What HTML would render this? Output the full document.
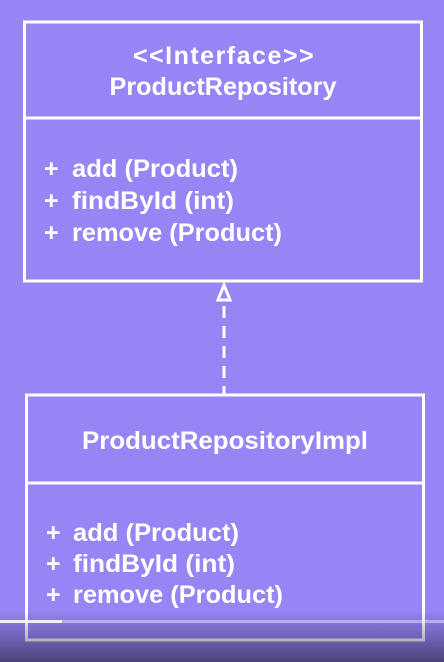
<!DOCTYPE html>
<html><head><style>
html,body{margin:0;padding:0;width:444px;height:662px;overflow:hidden;background:#9785f5;}
svg{display:block}
text{font-family:"Liberation Sans",sans-serif;font-weight:bold;fill:#fff;font-size:25px}
</style></head><body>
<svg width="444" height="662" viewBox="0 0 444 662">
<defs><linearGradient id="g" x1="0" y1="0" x2="0" y2="1">
<stop offset="0" stop-color="#000" stop-opacity="0"/><stop offset="1" stop-color="#000" stop-opacity="0.5"/></linearGradient></defs>
<rect x="0" y="0" width="444" height="662" fill="#9785f5"/>
<rect x="24.5" y="22" width="397" height="259" fill="none" stroke="#fff" stroke-width="3"/>
<line x1="24" y1="118" x2="421" y2="118" stroke="#fff" stroke-width="3"/>
<text x="224" y="64" text-anchor="middle" letter-spacing="1.5">&lt;&lt;Interface&gt;&gt;</text>
<text x="223" y="95" text-anchor="middle" textLength="227" lengthAdjust="spacingAndGlyphs">ProductRepository</text>
<text x="44" y="177">+</text><text x="72" y="177" textLength="166" lengthAdjust="spacingAndGlyphs">add (Product)</text>
<text x="44" y="209">+</text><text x="72" y="209" textLength="162" lengthAdjust="spacingAndGlyphs">findById (int)</text>
<text x="44" y="241">+</text><text x="72" y="241" textLength="210" lengthAdjust="spacingAndGlyphs">remove (Product)</text>
<polygon points="224,285 218,300 230,300" fill="none" stroke="#fff" stroke-width="3"/>
<line x1="224" y1="306" x2="224" y2="395" stroke="#fff" stroke-width="3" stroke-dasharray="12,8"/>
<rect x="26.5" y="395" width="397" height="245" fill="none" stroke="#fff" stroke-width="3"/>
<line x1="26" y1="483" x2="423" y2="483" stroke="#fff" stroke-width="3"/>
<text x="225" y="449" text-anchor="middle" textLength="286" lengthAdjust="spacingAndGlyphs">ProductRepositoryImpl</text>
<text x="46" y="541">+</text><text x="73" y="541" textLength="166" lengthAdjust="spacingAndGlyphs">add (Product)</text>
<text x="46" y="572">+</text><text x="73" y="572" textLength="162" lengthAdjust="spacingAndGlyphs">findById (int)</text>
<text x="46" y="603">+</text><text x="73" y="603" textLength="210" lengthAdjust="spacingAndGlyphs">remove (Product)</text>
<rect x="0" y="610" width="444" height="52" fill="url(#g)"/>
<rect x="0" y="620" width="444" height="3" fill="#fff" opacity="0.4"/>
<rect x="0" y="620" width="62" height="3" fill="#fff" opacity="0.8"/>
</svg>
</body></html>
